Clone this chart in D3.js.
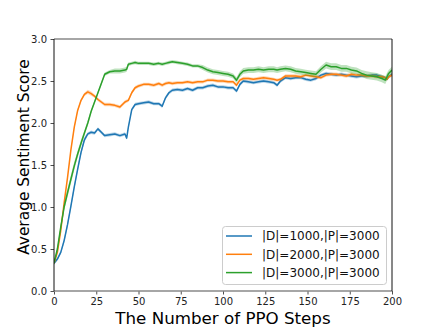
<!DOCTYPE html>
<html>
<head>
<meta charset="utf-8">
<script src="https://cdn.jsdelivr.net/npm/d3@7"></script>
<style>
  html, body { margin: 0; padding: 0; background: #fff; }
  svg { display: block; font-family: "DejaVu Sans", sans-serif; }
</style>
</head>
<body>
<div class="js-chart"></div>
<script>
(function() {
  'use strict';

  /* ------------------------------------------------------------ *\
      Data
  \* ------------------------------------------------------------ */

  var steps = [0, 2, 4, 6, 8, 10, 12, 14, 16, 18, 20, 22, 24, 26, 28, 30, 33, 36, 39, 42,
    43, 44, 46, 48, 50, 53, 56, 59, 62, 64, 66, 68, 70, 73, 76, 79, 82, 85, 88, 91,
    94, 97, 100, 103, 106, 108, 110, 112, 115, 118, 121, 124, 127, 130, 132, 134, 137, 140, 143, 146,
    149, 152, 155, 158, 161, 164, 167, 170, 173, 176, 179, 182, 185, 188, 191, 194, 196, 197, 198, 200];

  var scoreD1000 = [0.33, 0.38, 0.46, 0.60, 0.79, 1.01, 1.24, 1.45, 1.65, 1.80, 1.87, 1.89, 1.88, 1.93, 1.89, 1.85, 1.86, 1.87, 1.85, 1.87,
    1.82, 1.95, 2.16, 2.22, 2.23, 2.24, 2.25, 2.23, 2.23, 2.20, 2.30, 2.36, 2.39, 2.40, 2.39, 2.41, 2.39, 2.42, 2.42, 2.44,
    2.45, 2.43, 2.43, 2.42, 2.42, 2.38, 2.46, 2.50, 2.49, 2.48, 2.49, 2.50, 2.49, 2.48, 2.45, 2.50, 2.54, 2.53, 2.54, 2.54,
    2.52, 2.51, 2.53, 2.57, 2.59, 2.58, 2.57, 2.58, 2.57, 2.56, 2.55, 2.56, 2.56, 2.57, 2.57, 2.55, 2.54, 2.52, 2.55, 2.58];

  var scoreD2000 = [0.33, 0.46, 0.72, 1.05, 1.35, 1.68, 1.95, 2.15, 2.27, 2.34, 2.37, 2.35, 2.32, 2.28, 2.25, 2.22, 2.22, 2.21, 2.19, 2.25,
    2.26, 2.27, 2.36, 2.42, 2.44, 2.46, 2.46, 2.45, 2.47, 2.45, 2.47, 2.48, 2.47, 2.48, 2.48, 2.49, 2.48, 2.49, 2.49, 2.51,
    2.51, 2.50, 2.50, 2.49, 2.49, 2.45, 2.51, 2.53, 2.53, 2.52, 2.53, 2.54, 2.53, 2.52, 2.51, 2.52, 2.56, 2.56, 2.56, 2.55,
    2.57, 2.56, 2.55, 2.54, 2.57, 2.58, 2.58, 2.57, 2.56, 2.58, 2.57, 2.57, 2.56, 2.56, 2.55, 2.55, 2.54, 2.52, 2.55, 2.57];

  var scoreD3000 = [0.33, 0.50, 0.76, 1.00, 1.17, 1.33, 1.49, 1.63, 1.76, 1.88, 2.00, 2.14, 2.25, 2.36, 2.47, 2.58, 2.61, 2.62, 2.62, 2.63,
    2.64, 2.70, 2.71, 2.72, 2.71, 2.71, 2.71, 2.70, 2.71, 2.70, 2.71, 2.72, 2.73, 2.72, 2.71, 2.70, 2.68, 2.68, 2.66, 2.63,
    2.61, 2.60, 2.59, 2.58, 2.56, 2.51, 2.58, 2.62, 2.63, 2.63, 2.64, 2.63, 2.64, 2.64, 2.63, 2.64, 2.65, 2.64, 2.62, 2.61,
    2.60, 2.59, 2.58, 2.64, 2.69, 2.67, 2.67, 2.65, 2.65, 2.63, 2.62, 2.59, 2.57, 2.56, 2.55, 2.53, 2.51, 2.55, 2.59, 2.63];

  // half width of the shaded band round each line
  var bandD1000 = [0.02, 0.02, 0.02, 0.03, 0.03, 0.03, 0.03, 0.03, 0.03, 0.03, 0.02, 0.02, 0.02, 0.02, 0.02, 0.02, 0.02, 0.02, 0.02, 0.02,
    0.02, 0.02, 0.02, 0.02, 0.02, 0.02, 0.02, 0.02, 0.02, 0.02, 0.02, 0.02, 0.02, 0.02, 0.02, 0.02, 0.02, 0.02, 0.02, 0.02,
    0.02, 0.02, 0.02, 0.02, 0.02, 0.02, 0.02, 0.02, 0.02, 0.02, 0.02, 0.02, 0.02, 0.02, 0.02, 0.02, 0.02, 0.02, 0.02, 0.02,
    0.02, 0.02, 0.02, 0.02, 0.02, 0.02, 0.02, 0.02, 0.02, 0.02, 0.02, 0.02, 0.02, 0.02, 0.02, 0.02, 0.02, 0.02, 0.02, 0.02];

  var bandD2000 = [0.01, 0.01, 0.01, 0.01, 0.01, 0.01, 0.02, 0.02, 0.02, 0.02, 0.025, 0.025, 0.02, 0.02, 0.02, 0.02, 0.02, 0.02, 0.02, 0.02,
    0.02, 0.02, 0.02, 0.02, 0.02, 0.02, 0.02, 0.02, 0.02, 0.02, 0.02, 0.02, 0.02, 0.02, 0.02, 0.02, 0.02, 0.02, 0.02, 0.02,
    0.02, 0.02, 0.02, 0.02, 0.02, 0.02, 0.02, 0.02, 0.02, 0.02, 0.02, 0.02, 0.02, 0.02, 0.02, 0.02, 0.02, 0.02, 0.02, 0.02,
    0.02, 0.02, 0.02, 0.02, 0.02, 0.02, 0.02, 0.02, 0.02, 0.02, 0.02, 0.02, 0.02, 0.02, 0.02, 0.02, 0.02, 0.02, 0.02, 0.02];

  var bandD3000 = [0.01, 0.02, 0.03, 0.04, 0.05, 0.05, 0.05, 0.04, 0.04, 0.03, 0.03, 0.02, 0.02, 0.02, 0.02, 0.02, 0.02, 0.03, 0.03, 0.03,
    0.03, 0.02, 0.02, 0.02, 0.02, 0.02, 0.02, 0.02, 0.02, 0.02, 0.02, 0.02, 0.02, 0.02, 0.02, 0.02, 0.02, 0.02, 0.03, 0.03,
    0.03, 0.03, 0.03, 0.03, 0.03, 0.035, 0.035, 0.035, 0.035, 0.035, 0.035, 0.035, 0.035, 0.035, 0.035, 0.035, 0.035, 0.035, 0.035, 0.035,
    0.035, 0.035, 0.035, 0.04, 0.04, 0.04, 0.04, 0.04, 0.04, 0.04, 0.04, 0.04, 0.045, 0.045, 0.045, 0.045, 0.045, 0.045, 0.04, 0.04];

  var seriesLabels = ['|D|=1000,|P|=3000', '|D|=2000,|P|=3000', '|D|=3000,|P|=3000'];
  var seriesColours = ['#1f77b4', '#ff7f0e', '#2ca02c'];

  var xTicks = [0, 25, 50, 75, 100, 125, 150, 175, 200];
  var yTicks = [0.0, 0.5, 1.0, 1.5, 2.0, 2.5, 3.0];

  var xLabel = 'The Number of PPO Steps';
  var yLabel = 'Average Sentiment Score';

  /* ------------------------------------------------------------ *\
      Frame
  \* ------------------------------------------------------------ */

  var width = 436;
  var height = 327;
  var plot = { left: 54, right: 392, top: 39, bottom: 291 };

  var x = d3.scaleLinear().domain([0, 200]).range([plot.left, plot.right]);
  var y = d3.scaleLinear().domain([0, 3]).range([plot.bottom, plot.top]);

  var svg = d3.select('.js-chart')
    .append('svg')
    .attr('width', width)
    .attr('height', height)
    .attr('viewBox', '0 0 ' + width + ' ' + height);

  svg.append('defs').append('clipPath')
    .attr('id', 'plot-clip')
    .append('rect')
    .attr('x', plot.left)
    .attr('y', plot.top)
    .attr('width', plot.right - plot.left)
    .attr('height', plot.bottom - plot.top);

  /* ------------------------------------------------------------ *\
      Bands and lines
  \* ------------------------------------------------------------ */

  var allScores = [scoreD1000, scoreD2000, scoreD3000];
  var allBands = [bandD1000, bandD2000, bandD3000];

  var marks = svg.append('g').attr('clip-path', 'url(#plot-clip)');

  allScores.forEach(function(scores, s) {
    var rows = steps.map(function(step, i) {
      return { step: step, score: scores[i], band: allBands[s][i] };
    });

    var area = d3.area()
      .x(function(d) { return x(d.step); })
      .y0(function(d) { return y(d.score - d.band); })
      .y1(function(d) { return y(d.score + d.band); });

    var line = d3.line()
      .x(function(d) { return x(d.step); })
      .y(function(d) { return y(d.score); });

    marks.append('path')
      .attr('d', area(rows))
      .attr('fill', seriesColours[s])
      .attr('fill-opacity', 0.3)
      .attr('stroke', 'none');

    marks.append('path')
      .attr('d', line(rows))
      .attr('fill', 'none')
      .attr('stroke', seriesColours[s])
      .attr('stroke-width', 1.5)
      .attr('stroke-linejoin', 'round');
  });

  /* ------------------------------------------------------------ *\
      Axes
  \* ------------------------------------------------------------ */

  var xAxis = svg.append('g')
    .attr('transform', 'translate(0,' + plot.bottom + ')')
    .call(d3.axisBottom(x).tickValues(xTicks).tickSize(3.5).tickPadding(3.5).tickFormat(d3.format('d')));

  var yAxis = svg.append('g')
    .attr('transform', 'translate(' + plot.left + ',0)')
    .call(d3.axisLeft(y).tickValues(yTicks).tickSize(3.5).tickPadding(3.5).tickFormat(d3.format('.1f')));

  [xAxis, yAxis].forEach(function(axis) {
    axis.select('.domain').remove();
    axis.selectAll('line').attr('stroke', '#222').attr('stroke-width', 0.8);
    axis.selectAll('text')
      .attr('fill', '#222')
      .style('font-family', '"DejaVu Sans", sans-serif')
      .style('font-size', '10px');
  });

  // spines: top and bottom grey, left and right black
  svg.append('line')
    .attr('x1', plot.left).attr('x2', plot.right)
    .attr('y1', plot.top).attr('y2', plot.top)
    .attr('stroke', '#888').attr('stroke-width', 1.6);

  svg.append('line')
    .attr('x1', plot.left).attr('x2', plot.right)
    .attr('y1', plot.bottom).attr('y2', plot.bottom)
    .attr('stroke', '#888').attr('stroke-width', 1.6);

  svg.append('line')
    .attr('x1', plot.left).attr('x2', plot.left)
    .attr('y1', plot.top).attr('y2', plot.bottom)
    .attr('stroke', '#111').attr('stroke-width', 1);

  svg.append('line')
    .attr('x1', plot.right).attr('x2', plot.right)
    .attr('y1', plot.top).attr('y2', plot.bottom)
    .attr('stroke', '#111').attr('stroke-width', 1);

  /* ------------------------------------------------------------ *\
      Axis titles
  \* ------------------------------------------------------------ */

  svg.append('text')
    .attr('x', (plot.left + plot.right) / 2)
    .attr('y', 324)
    .attr('text-anchor', 'middle')
    .style('font-size', '16.7px')
    .attr('fill', '#000')
    .text(xLabel);

  svg.append('text')
    .attr('transform', 'translate(29,157) rotate(-90)')
    .attr('text-anchor', 'middle')
    .style('font-size', '15.4px')
    .attr('fill', '#000')
    .text(yLabel);

  /* ------------------------------------------------------------ *\
      Legend
  \* ------------------------------------------------------------ */

  var legend = svg.append('g').attr('transform', 'translate(222,226)');

  legend.append('rect')
    .attr('x', 0.5).attr('y', 0.5)
    .attr('width', 164).attr('height', 58)
    .attr('rx', 3)
    .attr('fill', '#fff').attr('fill-opacity', 0.8)
    .attr('stroke', '#ccc').attr('stroke-width', 1);

  seriesLabels.forEach(function(label, i) {
    var rowY = 10 + i * 18.3;

    legend.append('line')
      .attr('x1', 4).attr('x2', 30)
      .attr('y1', rowY).attr('y2', rowY)
      .attr('stroke', seriesColours[i])
      .attr('stroke-width', 1.5);

    legend.append('text')
      .attr('x', 40)
      .attr('y', rowY + 4.4)
      .style('font-size', '12px')
      .attr('fill', '#111')
      .text(label);
  });
})();
</script>
</body>
</html>
